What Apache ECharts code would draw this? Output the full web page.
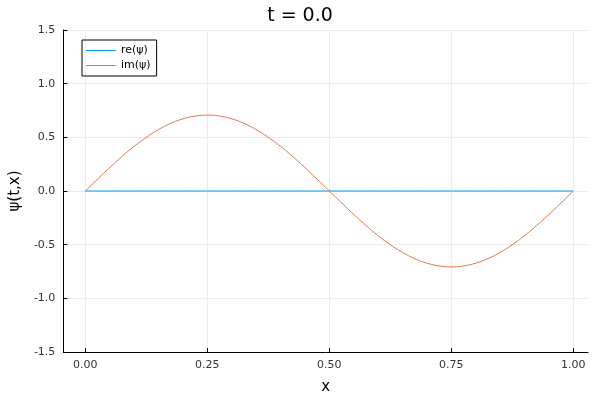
<!DOCTYPE html>
<html><head><meta charset="utf-8">
<script src="https://cdn.jsdelivr.net/npm/echarts@6/dist/echarts.min.js"></script>
<style>html,body{margin:0;padding:0;background:#fff}#c{width:600px;height:400px}</style>
</head><body><div id="c"></div>
<script>
const xs = [0,0.025,0.05,0.075,0.1,0.125,0.15,0.175,0.2,0.225,0.25,0.275,0.3,0.325,0.35,0.375,0.4,0.425,0.45,0.475,0.5,0.525,0.55,0.575,0.6,0.625,0.65,0.675,0.7,0.725,0.75,0.775,0.8,0.825,0.85,0.875,0.9,0.925,0.95,0.975,1.0];
const reVals = xs.map(()=>0);
const imVals = [0,0.110,0.218,0.321,0.416,0.500,0.572,0.630,0.672,0.698,0.707,0.698,0.672,0.630,0.572,0.500,0.416,0.321,0.218,0.110,0,-0.110,-0.218,-0.321,-0.416,-0.500,-0.572,-0.630,-0.672,-0.698,-0.707,-0.698,-0.672,-0.630,-0.572,-0.500,-0.416,-0.321,-0.218,-0.110,0];
const xTicks = [0,0.25,0.5,0.75,1.0];
const seriesNames = ['re(ψ)','im(ψ)'];
const chart = echarts.init(document.getElementById('c'));
const font = 'DejaVu Sans';
chart.setOption({
  animation:false,
  title:{text:'t = 0.0',left:'center',top:2,textStyle:{fontFamily:font,fontWeight:'normal',fontSize:19,color:'#000'}},
  grid:{left:58,right:12,top:30,bottom:45},
  legend:{left:82,top:40,orient:'vertical',itemWidth:30,itemHeight:1,itemGap:4,
    padding:[5,6,5,4],borderColor:'#000',borderWidth:1,icon:'rect',
    textStyle:{fontFamily:font,fontSize:11,color:'#000'},data:seriesNames},
  xAxis:{type:'value',min:-0.045,max:1.03,name:'x',nameLocation:'middle',nameGap:28,
    nameTextStyle:{fontFamily:font,fontSize:15,color:'#000'},
    axisLine:{onZero:false,lineStyle:{color:'#000'}},
    axisTick:{show:true,customValues:xTicks,inside:true,length:4,lineStyle:{color:'#000'}},
    axisLabel:{customValues:xTicks,formatter:v=>v.toFixed(2),fontFamily:font,fontSize:11,color:'#333'},
    splitLine:{show:true,lineStyle:{color:'#ececec'}}},
  yAxis:{type:'value',min:-1.5,max:1.5,interval:0.5,name:'ψ(t,x)',nameLocation:'middle',nameGap:38,
    nameTextStyle:{fontFamily:font,fontSize:15,color:'#000'},
    axisLine:{show:true,onZero:false,lineStyle:{color:'#000'}},
    axisTick:{show:true,inside:true,length:4,lineStyle:{color:'#000'}},
    axisLabel:{formatter:v=>v.toFixed(1),fontFamily:font,fontSize:11,color:'#333'},
    splitLine:{lineStyle:{color:'#ececec'}}},
  series:[
    {name:seriesNames[0],type:'line',showSymbol:false,data:xs.map((x,i)=>[x,reVals[i]]),lineStyle:{color:'#009AFA',width:1},itemStyle:{color:'#009AFA'}},
    {name:seriesNames[1],type:'line',showSymbol:false,smooth:true,data:xs.map((x,i)=>[x,imVals[i]]),lineStyle:{color:'#E26F46',width:1},itemStyle:{color:'#E26F46'}}
  ]
});
</script></body></html>
